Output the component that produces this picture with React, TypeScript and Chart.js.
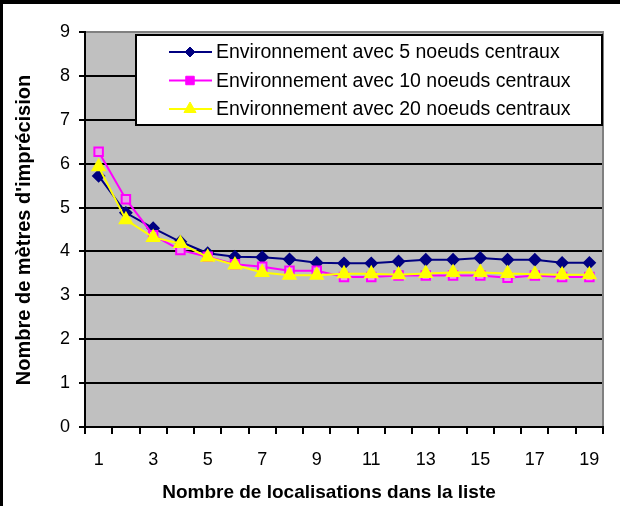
import React, { useEffect, useRef } from 'react';
import { Chart, registerables } from 'chart.js';

Chart.register(...registerables);

const categories = ['1', '2', '3', '4', '5', '6', '7', '8', '9', '10', '11', '12', '13', '14', '15', '16', '17', '18', '19'];
const series5 = [5.72, 4.88, 4.53, 4.22, 3.96, 3.88, 3.87, 3.82, 3.74, 3.73, 3.73, 3.77, 3.81, 3.81, 3.85, 3.81, 3.81, 3.74, 3.74];
const series10 = [6.27, 5.19, 4.37, 4.03, 3.88, 3.71, 3.65, 3.56, 3.56, 3.42, 3.42, 3.45, 3.45, 3.45, 3.45, 3.4, 3.45, 3.42, 3.42];
const series20 = [5.93, 4.72, 4.32, 4.18, 3.87, 3.69, 3.52, 3.46, 3.46, 3.49, 3.49, 3.47, 3.5, 3.52, 3.52, 3.5, 3.48, 3.47, 3.47];
const seriesLabels = [
  'Environnement avec 5 noeuds centraux',
  'Environnement avec 10 noeuds centraux',
  'Environnement avec 20 noeuds centraux',
];
const yMin = 0;
const yMax = 9;
const yStep = 1;
const xTitle = 'Nombre de localisations dans la liste';
const yTitle = "Nombre de mètres d'imprécision";

const FONT = "'Liberation Sans', Arial, sans-serif";

function drawMarker(ctx: CanvasRenderingContext2D, style: string, x: number, y: number, r: number, fill: string, stroke: string) {
  ctx.save();
  ctx.beginPath();
  if (style === 'rectRot') {
    ctx.moveTo(x - r, y);
    ctx.lineTo(x, y - r);
    ctx.lineTo(x + r, y);
    ctx.lineTo(x, y + r);
    ctx.closePath();
  } else if (style === 'rect') {
    const s = r * Math.SQRT1_2;
    ctx.rect(x - s, y - s, 2 * s, 2 * s);
  } else {
    const h = r * Math.sin((2 * Math.PI) / 3);
    ctx.moveTo(x, y - r);
    ctx.lineTo(x + h, y + r * 0.5);
    ctx.lineTo(x - h, y + r * 0.5);
    ctx.closePath();
  }
  ctx.fillStyle = fill;
  ctx.fill();
  ctx.strokeStyle = stroke;
  ctx.lineWidth = 1;
  ctx.stroke();
  ctx.restore();
}

const framePlugin = {
  id: 'excelFrame',
  beforeDraw(chart: any) {
    const { ctx, chartArea, width, height } = chart;
    ctx.save();
    ctx.fillStyle = '#ffffff';
    ctx.fillRect(0, 0, width, height);
    ctx.fillStyle = '#000000';
    ctx.fillRect(0, 0, width, 4);
    ctx.fillRect(0, 0, 3, height);
    ctx.fillStyle = '#c0c0c0';
    ctx.fillRect(chartArea.left, chartArea.top, chartArea.right - chartArea.left, chartArea.bottom - chartArea.top);
    ctx.restore();
  },
  afterDraw(chart: any) {
    const { ctx, chartArea } = chart;
    ctx.save();
    ctx.strokeStyle = '#808080';
    ctx.lineWidth = 2;
    ctx.beginPath();
    ctx.moveTo(chartArea.left + 1, chartArea.top);
    ctx.lineTo(chartArea.right, chartArea.top);
    ctx.lineTo(chartArea.right, chartArea.bottom - 1);
    ctx.stroke();

    ctx.fillStyle = '#000';
    ctx.font = `bold 19px ${FONT}`;
    ctx.textAlign = 'center';
    ctx.textBaseline = 'middle';
    ctx.fillText(xTitle, 329, 493);
    ctx.save();
    ctx.translate(24, 230);
    ctx.rotate(-Math.PI / 2);
    ctx.font = `bold 20px ${FONT}`;
    ctx.fillText(yTitle, 0, 0);
    ctx.restore();

    const lx = 136, ly = 35, lw = 466, lh = 90;
    ctx.fillStyle = '#ffffff';
    ctx.fillRect(lx, ly, lw, lh);
    ctx.strokeStyle = '#000';
    ctx.lineWidth = 2;
    ctx.strokeRect(lx, ly, lw, lh);
    chart.data.datasets.forEach((ds: any, i: number) => {
      const y = 52 + i * 28.5;
      ctx.strokeStyle = ds.borderColor;
      ctx.lineWidth = 2;
      ctx.beginPath();
      ctx.moveTo(169, y);
      ctx.lineTo(212, y);
      ctx.stroke();
      drawMarker(ctx, ds.pointStyle, 190, y, ds.legendRadius, ds.legendFill, ds.borderColor);
      ctx.fillStyle = '#000';
      ctx.font = `19.5px ${FONT}`;
      ctx.textAlign = 'left';
      ctx.textBaseline = 'middle';
      ctx.fillText(ds.label, 216, y + 1);
    });
    ctx.restore();
  },
};

export default function App() {
  const ref = useRef<HTMLCanvasElement>(null);
  useEffect(() => {
    if (!ref.current) return;
    const chart = new Chart(ref.current, {
      type: 'line',
      data: {
        labels: categories,
        datasets: [
          {
            label: seriesLabels[0],
            data: series5,
            borderColor: '#000080',
            backgroundColor: '#000080',
            pointBackgroundColor: '#000080',
            pointBorderColor: '#000080',
            pointStyle: 'rectRot',
            pointRadius: 5.5,
            borderWidth: 2,
            order: 2,
            legendRadius: 5,
            legendFill: '#000080',
          } as any,
          {
            label: seriesLabels[1],
            data: series10,
            borderColor: '#ff00ff',
            backgroundColor: '#ff00ff',
            pointBackgroundColor: '#e8a0e8',
            pointBorderColor: '#ff00ff',
            pointBorderWidth: 2,
            pointStyle: 'rect',
            pointRadius: 6,
            borderWidth: 2,
            order: 1,
            legendRadius: 6,
            legendFill: '#ff00ff',
          } as any,
          {
            label: seriesLabels[2],
            data: series20,
            borderColor: '#ffff00',
            backgroundColor: '#ffff00',
            pointBackgroundColor: '#ffff00',
            pointBorderColor: '#ffff00',
            pointStyle: 'triangle',
            pointRadius: 7,
            borderWidth: 2,
            order: 0,
            legendRadius: 7,
            legendFill: '#ffff00',
          } as any,
        ],
      },
      options: {
        responsive: false,
        animation: false,
        events: [],
        layout: { padding: { top: 32, right: 17, left: 0, bottom: 0 } },
        plugins: {
          legend: { display: false },
          tooltip: { enabled: false },
          title: { display: false },
        },
        elements: { line: { tension: 0 } },
        scales: {
          x: {
            type: 'category',
            offset: true,
            afterFit: (s: any) => { s.height = 79; },
            grid: {
              display: true,
              drawOnChartArea: false,
              drawTicks: true,
              tickLength: 7,
              offset: true,
              color: '#000',
              lineWidth: 2,
            },
            border: { display: true, color: '#000', width: 2 },
            ticks: {
              autoSkip: false,
              maxRotation: 0,
              minRotation: 0,
              padding: 15,
              color: '#000',
              font: { family: FONT, size: 18 },
              callback: (_v: any, i: number) => (i % 2 === 0 ? categories[i] : ''),
            },
          },
          y: {
            min: yMin,
            max: yMax,
            afterFit: (s: any) => { s.width = 85; },
            grid: {
              color: '#000',
              lineWidth: 2,
              drawTicks: true,
              tickLength: 6,
            },
            border: { display: true, color: '#000', width: 2 },
            ticks: {
              stepSize: yStep,
              padding: 9,
              color: '#000',
              font: { family: FONT, size: 18 },
            },
          },
        },
      },
      plugins: [framePlugin],
    });
    return () => chart.destroy();
  }, []);
  return (
    <div style={{ position: 'absolute', left: 0, top: 0, width: 620, height: 506 }}>
      <canvas ref={ref} width={620} height={506} style={{ width: 620, height: 506, display: 'block' }} />
    </div>
  );
}
